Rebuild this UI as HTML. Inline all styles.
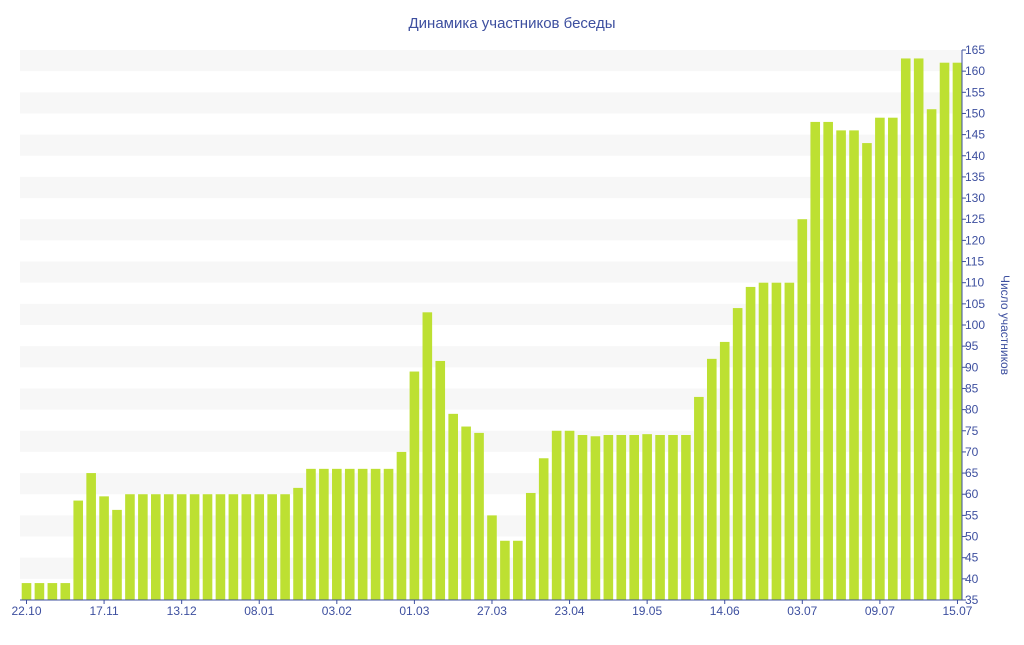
<!DOCTYPE html>
<html><head><meta charset="utf-8"><style>
body{margin:0;background:#fff;}
svg text{font-family:"Liberation Sans","DejaVu Sans",sans-serif;fill:#3d4f9f;}
</style></head><body>
<svg width="1024" height="640">
<text x="512" y="28" text-anchor="middle" font-size="15">Динамика участников беседы</text>
<g id="bands"></g><g id="bars"></g><g id="axes"></g>
<text transform="translate(1001,325) rotate(90)" text-anchor="middle" font-size="12">Число участников</text>
</svg>
<script>
const values=[39,39,39,39,58.5,65,59.5,56.3,60,60,60,60,60,60,60,60,60,60,60,60,60,61.5,66,66,66,66,66,66,66,70,89,103,91.5,79,76,74.5,55,49,49,60.3,68.5,75,75,74,73.7,74,74,74,74.2,74,74,74,83,92,96,104,109,110,110,110,125,148,148,146,146,143,149,149,163,163,151,162,162];
const xLabels=["22.10","17.11","13.12","08.01","03.02","01.03","27.03","23.04","19.05","14.06","03.07","09.07","15.07"];
const yTicks=[35,40,45,50,55,60,65,70,75,80,85,90,95,100,105,110,115,120,125,130,135,140,145,150,155,160,165];
const NS="http://www.w3.org/2000/svg";
const yMin=35,yMax=165,plotTop=50,plotBot=600,plotLeft=20,plotRight=962;
const yS=v=>plotBot-(v-yMin)/(yMax-yMin)*(plotBot-plotTop);
const step=12.93,x0=26.5;
const xS=i=>x0+i*step;
function mk(t,a,p){const e=document.createElementNS(NS,t);for(const k in a)e.setAttribute(k,a[k]);p.appendChild(e);return e;}
const bandsG=document.getElementById('bands'),barsG=document.getElementById('bars'),axesG=document.getElementById('axes');
for(let v=40;v<yMax;v+=10){const r=mk('rect',{x:plotLeft,y:yS(v+5),width:plotRight-plotLeft,height:yS(v)-yS(v+5),fill:'#f7f7f7'},bandsG);

}
values.forEach((v,i)=>{const r=mk('rect',{x:xS(i)-4.8,y:yS(v),width:9.6,height:plotBot-yS(v),fill:'#bde032'},barsG);

});
const xa=mk('line',{x1:plotLeft,y1:plotBot,x2:plotRight,y2:plotBot,stroke:'#3d4f9f','stroke-width':1},axesG);


const ya=mk('line',{x1:plotRight,y1:plotTop,x2:plotRight,y2:plotBot,stroke:'#3d4f9f','stroke-width':1},axesG);


xLabels.forEach((l,k)=>{const xi=xS(k*6);
mk('line',{x1:xi,y1:plotBot,x2:xi,y2:plotBot+4,stroke:'#3d4f9f'},axesG);
const t=mk('text',{x:xi,y:plotBot+15,'text-anchor':'middle','font-size':12},axesG);t.textContent=l;

});
yTicks.forEach(v=>{mk('line',{x1:plotRight,y1:yS(v),x2:plotRight+4,y2:yS(v),stroke:'#3d4f9f'},axesG);
const t=mk('text',{x:plotRight+3,y:yS(v)+4,'font-size':12},axesG);t.textContent=v;

});
</script>
</body></html>
